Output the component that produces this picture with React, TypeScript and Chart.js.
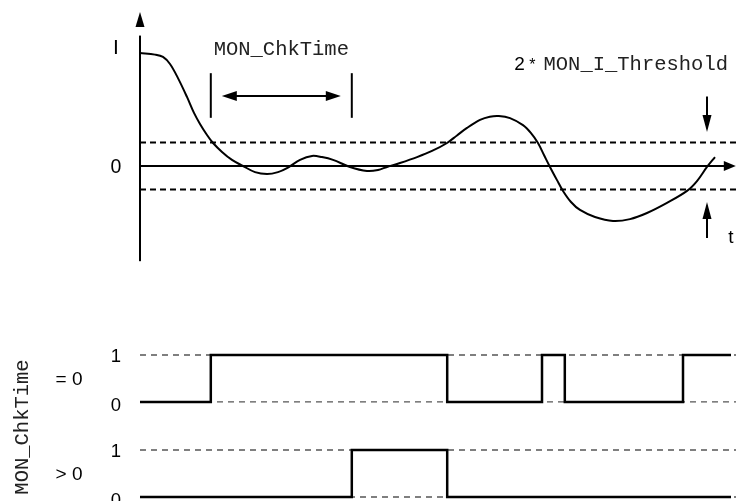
import React, { useEffect, useRef } from 'react';
import { Chart, registerables } from 'chart.js';

Chart.register(...registerables);

// ---- Data (time in arbitrary units, current in units of MON_I_Threshold) ----
const curveTime = [0, 2.5, 3.83, 5.0, 6.33, 7.83, 9.0, 10.0, 11.17, 12.17, 13.67, 15.33, 17.17, 19.17, 21.17, 23.0, 24.5, 26.67, 28.67, 30.33, 32.17, 35.0, 37.83, 39.67, 41.17, 43.33, 46.17, 48.67, 51.17, 52.83, 54.5, 56.67, 58.3, 59.8, 61.67, 63.83, 65.17, 66.33, 67.33, 68.33, 69.5, 70.5, 71.83, 73.33, 75.83, 78.83, 81.67, 84.5, 87.83, 91.17, 92.83, 94.5, 95.83];
const curveCurrent = [4.81, 4.74, 4.64, 4.34, 3.74, 2.94, 2.26, 1.79, 1.32, 0.98, 0.6, 0.26, 0.0, -0.26, -0.34, -0.26, -0.09, 0.26, 0.43, 0.38, 0.26, -0.04, -0.21, -0.17, -0.04, 0.13, 0.38, 0.64, 0.98, 1.3, 1.62, 1.96, 2.1, 2.13, 2.04, 1.74, 1.4, 0.98, 0.47, -0.04, -0.6, -1.06, -1.53, -1.87, -2.17, -2.34, -2.26, -2.0, -1.57, -1.06, -0.64, -0.04, 0.38];

const thresholdLevel = 1;
const chkTimeStart = 11.8;
const chkTimeEnd = 35.3;
const thresholdMarkTime = 94.5;

const stateZeroTimes = [0, 11.8, 51.2, 67.0, 70.8, 90.5, 98.5];
const stateZeroValues = [0, 1, 0, 1, 0, 1, 1];
const statePosTimes = [0, 35.3, 51.2, 98.5];
const statePosValues = [0, 1, 0, 0];

const logicLevels = [0, 1];
const logicTickLabels = ['0', '1'];
const currentTickLabels = ['I', '0'];
const conditionLabels = ['= 0', '> 0'];
const timeLabel = 't';
const signalName = 'MON_ChkTime';
const thresholdName = 'MON_I_Threshold';
const thresholdFactor = '2';

const axisTimeEnd = 99.3;
const axisCurrentTop = 6.55;
const axisCurrentBottom = -4.05;

// ---- helpers ----
const pts = (xs: number[], ys: number[]) => xs.map((x, i) => ({ x, y: ys[i] }));

const SANS = '"Liberation Sans", Arial, Helvetica, sans-serif';
const MONO = '"Liberation Mono", "Courier New", monospace';

function arrowHead(ctx: CanvasRenderingContext2D, tipX: number, tipY: number, dx: number, dy: number, len: number, half: number) {
  const bx = tipX - dx * len, by = tipY - dy * len;
  const nx = -dy, ny = dx;
  ctx.beginPath();
  ctx.moveTo(tipX, tipY);
  ctx.lineTo(bx + nx * half, by + ny * half);
  ctx.lineTo(bx - nx * half, by - ny * half);
  ctx.closePath();
  ctx.fill();
}

function line(ctx: CanvasRenderingContext2D, x1: number, y1: number, x2: number, y2: number) {
  ctx.beginPath();
  ctx.moveTo(x1, y1);
  ctx.lineTo(x2, y2);
  ctx.stroke();
}

function sans(ctx: CanvasRenderingContext2D, text: string, x: number, yCenter: number, size: number, align: CanvasTextAlign = 'center') {
  ctx.font = `${size}px ${SANS}`;
  ctx.textAlign = align;
  ctx.textBaseline = 'alphabetic';
  ctx.fillText(text, x, yCenter + size * 0.716 / 2);
}

const diagramPlugin = {
  id: 'diagram',
  afterDatasetsDraw(chart: any) {
    const ctx: CanvasRenderingContext2D = chart.ctx;
    const xs = chart.scales.x, yI = chart.scales.yI, yA = chart.scales.yA, yB = chart.scales.yB;
    const px = (t: number) => xs.getPixelForValue(t);
    const x0 = px(0);
    ctx.save();
    ctx.fillStyle = '#000';
    ctx.strokeStyle = '#000';
    ctx.lineWidth = 2;

    // axis arrowheads
    arrowHead(ctx, x0, yI.getPixelForValue(axisCurrentTop), 0, -1, 15, 4.5);
    arrowHead(ctx, px(axisTimeEnd), yI.getPixelForValue(0), 1, 0, 12, 5);

    // MON_ChkTime markers
    const xs1 = px(chkTimeStart), xs2 = px(chkTimeEnd);
    const mTop = yI.getPixelForValue(3.95), mBot = yI.getPixelForValue(2.05), mArr = yI.getPixelForValue(2.98);
    line(ctx, xs1, mTop, xs1, mBot);
    line(ctx, xs2, mTop, xs2, mBot);
    const a1 = xs1 + 11, a2 = xs2 - 11;
    line(ctx, a1 + 8, mArr, a2 - 8, mArr);
    arrowHead(ctx, a1, mArr, -1, 0, 15, 5);
    arrowHead(ctx, a2, mArr, 1, 0, 15, 5);

    // threshold arrows
    const tx = px(thresholdMarkTime);
    const yUp = yI.getPixelForValue(thresholdLevel), yLo = yI.getPixelForValue(-thresholdLevel);
    line(ctx, tx, yUp - 46, tx, yUp - 20);
    arrowHead(ctx, tx, yUp - 10.5, 0, 1, 17, 4.5);
    line(ctx, tx, yLo + 48.5, tx, yLo + 22);
    arrowHead(ctx, tx, yLo + 12.5, 0, -1, 17, 4.5);

    // top-panel labels
    ctx.fillStyle = '#000';
    sans(ctx, currentTickLabels[0], x0 - 24, 46, 21);
    sans(ctx, currentTickLabels[1], x0 - 24, yI.getPixelForValue(0), 19.5);
    ctx.font = `19px ${SANS}`;
    ctx.textAlign = 'center';
    ctx.textBaseline = 'alphabetic';
    ctx.fillText(timeLabel, 731, yLo + 53);

    // monospace labels
    ctx.fillStyle = '#222';
    ctx.font = `20.5px ${MONO}`;
    ctx.textAlign = 'center';
    ctx.textBaseline = 'alphabetic';
    ctx.fillText(signalName, (xs1 + xs2) / 2, 55);

    ctx.textAlign = 'right';
    const monoRight = tx + 21;
    ctx.fillText(thresholdName, monoRight, 70);
    const monoW = ctx.measureText(thresholdName).width;
    const monoLeft = monoRight - monoW;
    ctx.fillStyle = '#000';
    ctx.font = `16px ${SANS}`;
    ctx.textAlign = 'center';
    ctx.fillText('*', monoLeft - 11, 70);
    ctx.font = `19px ${SANS}`;
    ctx.fillText(thresholdFactor, monoLeft - 24, 70);

    // bottom-panel labels
    const lvlScales = [yA, yB];
    lvlScales.forEach((sc: any, k: number) => {
      logicLevels.forEach((lv, i) => {
        sans(ctx, logicTickLabels[i], x0 - 24, sc.getPixelForValue(lv) + (lv === 0 ? 2 : 0), 18.5);
      });
      const mid = (sc.getPixelForValue(0) + sc.getPixelForValue(1)) / 2;
      sans(ctx, conditionLabels[k], 69, mid, 19);
    });

    // rotated signal name
    const midAll = (yA.getPixelForValue(1) + yB.getPixelForValue(0)) / 2;
    ctx.save();
    ctx.translate(28, midAll + 1);
    ctx.rotate(-Math.PI / 2);
    ctx.fillStyle = '#222';
    ctx.font = `20.5px ${MONO}`;
    ctx.textAlign = 'center';
    ctx.textBaseline = 'alphabetic';
    ctx.fillText(signalName, 0, 0);
    ctx.restore();

    ctx.restore();
  },
};

export default function App() {
  const ref = useRef<HTMLCanvasElement>(null);
  useEffect(() => {
    if (!ref.current) return;
    const black = '#000';
    const grey = '#555';
    const base = { pointRadius: 0, fill: false, tension: 0 };
    const logicRef = (axis: string, lv: number) => ({
      ...base,
      yAxisID: axis,
      data: [{ x: 0, y: lv }, { x: 200, y: lv }],
      borderColor: grey,
      borderWidth: 1.3,
      borderDash: [6, 5],
    });
    const chart = new Chart(ref.current, {
      type: 'line',
      data: {
        datasets: [
          { ...base, yAxisID: 'yA', data: pts(stateZeroTimes, stateZeroValues), stepped: 'before', borderColor: black, borderWidth: 2.5, borderJoinStyle: 'miter' },
          { ...base, yAxisID: 'yB', data: pts(statePosTimes, statePosValues), stepped: 'before', borderColor: black, borderWidth: 2.5, borderJoinStyle: 'miter' },
          { ...base, yAxisID: 'yI', data: pts(curveTime, curveCurrent), cubicInterpolationMode: 'default', tension: 0.35, borderColor: black, borderWidth: 2 },
          { ...base, yAxisID: 'yI', data: [{ x: 0, y: 0 }, { x: axisTimeEnd - 1, y: 0 }], borderColor: black, borderWidth: 2 },
          { ...base, yAxisID: 'yI', data: [{ x: 0, y: axisCurrentBottom }, { x: 0, y: axisCurrentTop - 1 }], borderColor: black, borderWidth: 2 },
          { ...base, yAxisID: 'yI', data: [{ x: 0, y: thresholdLevel }, { x: 200, y: thresholdLevel }], borderColor: black, borderWidth: 2, borderDash: [6, 4] },
          { ...base, yAxisID: 'yI', data: [{ x: 0, y: -thresholdLevel }, { x: 200, y: -thresholdLevel }], borderColor: black, borderWidth: 2, borderDash: [6, 4] },
          logicRef('yA', logicLevels[0]),
          logicRef('yA', logicLevels[1]),
          logicRef('yB', logicLevels[0]),
          logicRef('yB', logicLevels[1]),
        ] as any,
      },
      options: {
        animation: false,
        responsive: false,
        devicePixelRatio: 1,
        events: [],
        layout: { padding: 0, autoPadding: false } as any,
        plugins: { legend: { display: false }, tooltip: { enabled: false } },
        scales: {
          x: { type: 'linear', display: false, min: -23.333, max: 99.333 },
          yI: { type: 'linear', display: false, min: -14.255, max: 7.064 },
          yA: { type: 'linear', display: false, min: -2.107, max: 8.553 },
          yB: { type: 'linear', display: false, min: -0.085, max: 10.574 },
        },
      } as any,
      plugins: [diagramPlugin],
    });
    return () => chart.destroy();
  }, []);
  return (
    <div style={{ position: 'absolute', left: 0, top: 0, width: 736, height: 501, background: '#fff' }}>
      <canvas ref={ref} width={736} height={501} style={{ display: 'block', width: 736, height: 501 }} />
    </div>
  );
}
